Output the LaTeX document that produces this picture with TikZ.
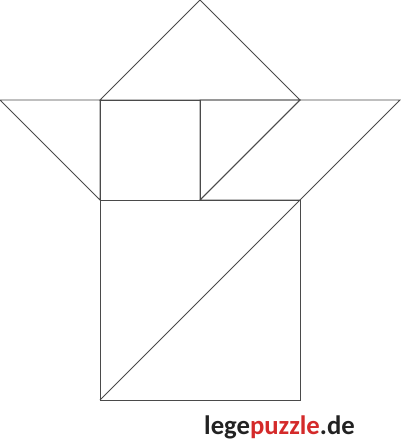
\documentclass[tikz,border=0pt]{standalone}
\usepackage{fontspec}
\setmainfont{Carlito}
\definecolor{lineg}{HTML}{4A4A4A}
\definecolor{lred}{HTML}{D42A2A}
\definecolor{ltxt}{HTML}{222222}
\tikzset{piece/.style={draw=lineg,line width=0.9pt,line join=miter}}
\begin{document}
\begin{tikzpicture}[x=1pt,y=-1pt]
\useasboundingbox (0,0) rectangle (400,442);
% top triangle
\draw[piece] (100,100) -- (200,0) -- (300,100) -- cycle;
% left triangle
\draw[piece] (0,100) -- (100,100) -- (100,200) -- cycle;
% small square
\draw[piece] (100,100) rectangle (200,200);
% middle triangle
\draw[piece] (200,100) -- (300,100) -- (200,200) -- cycle;
% right parallelogram
\draw[piece] (300,100) -- (400,100) -- (300,200) -- (200,200) -- cycle;
% big square with diagonal
\draw[piece] (100,200) rectangle (300,400);
\draw[piece] (100,400) -- (300,200);
\node[anchor=base west,inner sep=0pt,font=\fontsize{26.7}{27}\selectfont\bfseries,text=ltxt] (logo) at (204,434) {lege\textcolor{lred}{puzzle}.de};
\end{tikzpicture}
\end{document}
